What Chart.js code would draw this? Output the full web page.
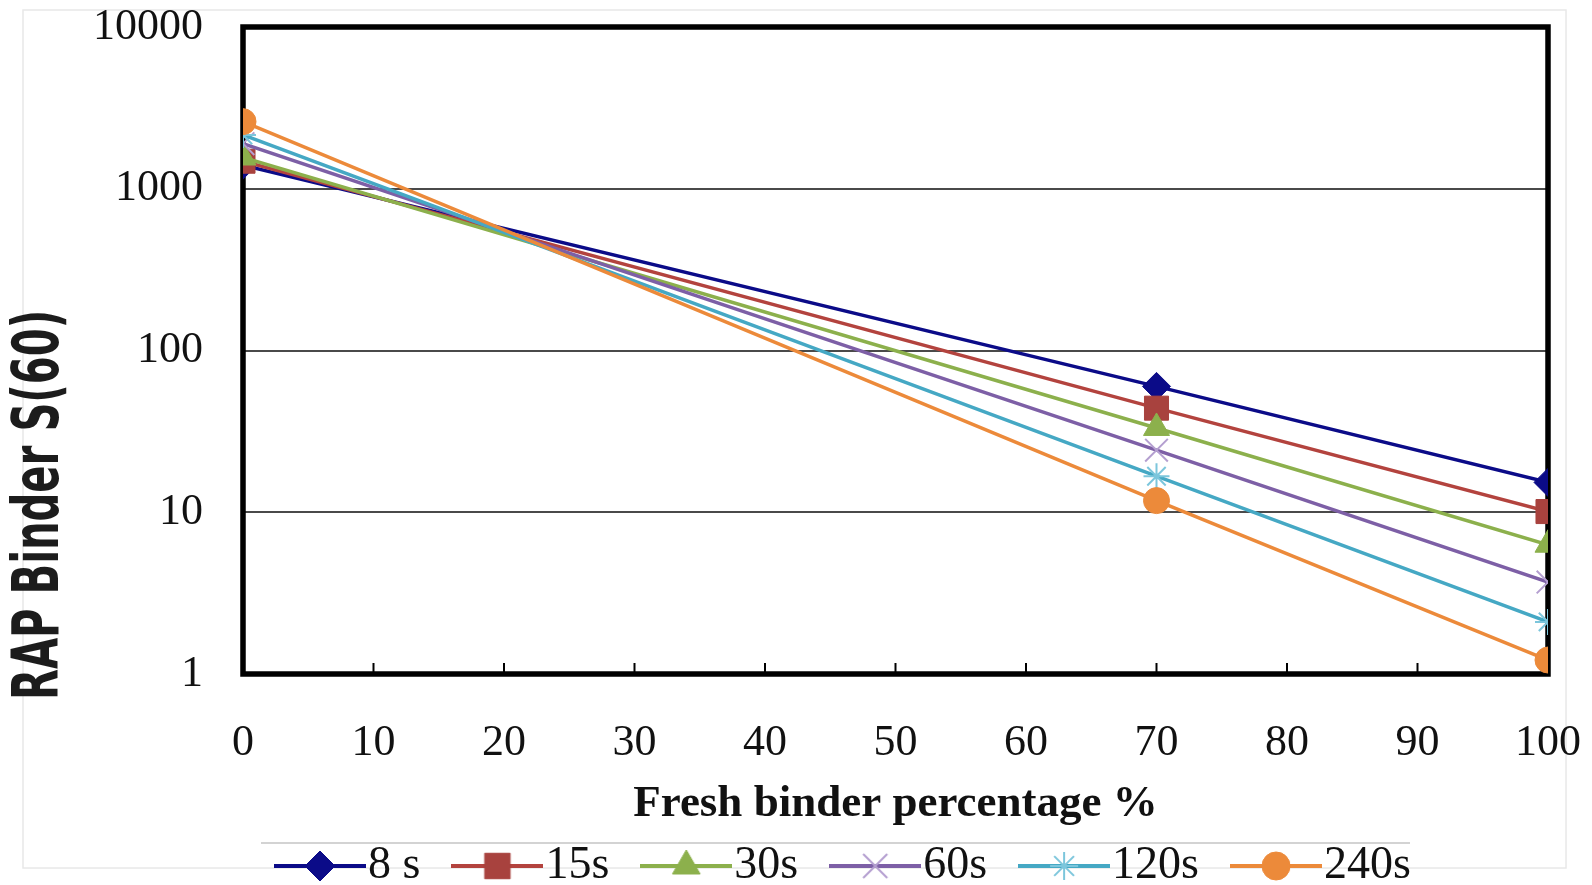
<!DOCTYPE html>
<html>
<head>
<meta charset="utf-8">
<script src="https://cdn.jsdelivr.net/npm/chart.js@4.4.1/dist/chart.umd.min.js"></script>
<style>
  html, body { margin: 0; padding: 0; background: #fff; overflow: hidden; }
  #wrap { width: 1592px; height: 899px; }
</style>
</head>
<body>
<div id="wrap"><canvas id="chart"></canvas></div>
<script>
// fresh binder percentage (x) and the measured values per loading time
const xValues = [0, 70, 100];
const seriesLabels = ["8 s", "15s", "30s", "60s", "120s", "240s"];
const s8 = [1400, 60, 15.3];
const s15 = [1480, 44, 10.1];
const s30 = [1560, 33.2, 6.3];
const s60 = [1900, 24.2, 3.7];
const s120 = [2150, 16.7, 2.1];
const s240 = [2600, 11.8, 1.22];
const yTickValues = [1, 10, 100, 1000, 10000];
const xTitle = "Fresh binder percentage %";
const yTitle = "RAP Binder S(60)";

const seriesValues = [s8, s15, s30, s60, s120, s240];
const lineColors = ["#0b0b88", "#b3433e", "#8cb04c", "#7d5fa6", "#45a8c4", "#ec8a3a"];
const markerColors = ["#0b0b88", "#a8423e", "#8cb04c", "#b49fd0", "#7cc6dc", "#ec8a3a"];
const markerStyles = ["rectRot", "rect", "triangle", "crossRot", "star", "circle"];
const markerSizes = [14, 17, 15, 16, 13, 13];
const markerBorders = [1, 1, 1, 2, 2, 1];

const serif = '"Liberation Serif", "Times New Roman", serif';

const datasets = seriesLabels.map((label, i) => ({
  label: label,
  data: xValues.map((x, j) => ({ x: x, y: seriesValues[i][j] })),
  borderColor: lineColors[i],
  borderWidth: 3.5,
  pointStyle: markerStyles[i],
  pointRadius: markerSizes[i],
  pointBackgroundColor: markerColors[i],
  pointBorderColor: markerColors[i],
  pointBorderWidth: markerBorders[i],
  tension: 0,
  order: seriesLabels.length - i
}));

// little picture of line + marker for each legend entry
function legendImage(i) {
  const c = document.createElement("canvas");
  c.width = 92;
  c.height = 36;
  const g = c.getContext("2d");
  g.strokeStyle = lineColors[i];
  g.lineWidth = 4;
  g.beginPath();
  g.moveTo(0, 18);
  g.lineTo(92, 18);
  g.stroke();
  g.fillStyle = markerColors[i];
  g.strokeStyle = markerColors[i];
  g.lineWidth = markerBorders[i];
  Chart.helpers.drawPoint(g, {
    pointStyle: markerStyles[i],
    radius: markerSizes[i] + 1,
    rotation: 0,
    borderWidth: markerBorders[i]
  }, 46, 18);
  return c;
}
const legendImages = seriesLabels.map((_, i) => legendImage(i));

// page border, frame, inner ticks and the rotated y title
const decorPlugin = {
  id: "decor",
  beforeDraw(chart) {
    const ctx = chart.ctx;
    ctx.save();
    ctx.fillStyle = "#ffffff";
    ctx.fillRect(0, 0, chart.width, chart.height);
    ctx.strokeStyle = "#e8e8e8";
    ctx.lineWidth = 1.5;
    ctx.strokeRect(23, 10, 1543, 858);
    ctx.strokeStyle = "#c4c4c4";
    ctx.beginPath();
    ctx.moveTo(261, 843);
    ctx.lineTo(1410, 843);
    ctx.stroke();
    ctx.restore();
  },
  beforeDatasetsDraw(chart) {
    const ctx = chart.ctx;
    const a = chart.chartArea;
    const xs = chart.scales.x;
    ctx.save();
    ctx.strokeStyle = "#000";
    ctx.lineWidth = 2;
    xs.ticks.forEach(t => {
      const px = xs.getPixelForValue(t.value);
      ctx.beginPath();
      ctx.moveTo(px, a.bottom);
      ctx.lineTo(px, a.bottom - 11);
      ctx.stroke();
    });
    ctx.lineWidth = 5.5;
    ctx.strokeRect(a.left, a.top, a.right - a.left, a.bottom - a.top);
    ctx.restore();
  },
  afterDraw(chart) {
    const ctx = chart.ctx;
    ctx.save();
    ctx.font = 'bold 64px "DejaVu Sans Condensed", "DejaVu Sans", sans-serif';
    const w = ctx.measureText(yTitle).width;
    ctx.translate(41, 505);
    ctx.rotate(-Math.PI / 2);
    ctx.scale(390 / w, 1);
    ctx.textAlign = "center";
    ctx.textBaseline = "middle";
    ctx.fillStyle = "#1c1c1c";
    ctx.fillText(yTitle, 0, 0);
    ctx.restore();
  }
};

new Chart(document.getElementById("chart"), {
  type: "line",
  data: { datasets: datasets },
  plugins: [decorPlugin],
  options: {
    responsive: true,
    maintainAspectRatio: false,
    animation: false,
    layout: { padding: { left: 20, right: 44, top: 27, bottom: 0 } },
    scales: {
      x: {
        type: "linear",
        min: 0,
        max: 100,
        border: { display: false },
        grid: { display: false, drawTicks: false },
        ticks: {
          stepSize: 10,
          padding: 43,
          color: "#111",
          font: { family: serif, size: 44 }
        },
        title: {
          display: true,
          text: xTitle,
          color: "#111",
          font: { family: serif, size: 45, weight: "bold" },
          padding: { top: 0, bottom: -40 }
        },
        afterFit(scale) {
          scale.height = 117;
          scale.paddingLeft = 0;
          scale.paddingRight = 0;
        }
      },
      y: {
        type: "logarithmic",
        min: 1,
        max: 10000,
        border: { display: false },
        grid: {
          drawTicks: false,
          color: ctx => (ctx.tick && (ctx.tick.value === 1 || ctx.tick.value === 10000)) ? "rgba(0,0,0,0)" : "#4a4a4a",
          lineWidth: 2
        },
        ticks: {
          padding: 40,
          color: "#111",
          font: { family: serif, size: 44 },
          callback: v => String(v)
        },
        afterBuildTicks(scale) {
          scale.ticks = yTickValues.map(v => ({ value: v }));
        },
        afterFit(scale) {
          scale.width = 223;
          scale.paddingTop = 0;
          scale.paddingBottom = 0;
        }
      }
    },
    plugins: {
      tooltip: { enabled: false },
      legend: {
        position: "bottom",
        fullSize: false,
        align: "start",
        labels: {
          usePointStyle: true,
          pointStyleWidth: 50,
          padding: 52,
          color: "#111",
          font: { family: serif, size: 46 },
          generateLabels: chart => chart.data.datasets.map((ds, i) => ({
            text: ds.label,
            pointStyle: legendImages[i],
            fillStyle: "rgba(0,0,0,0)",
            strokeStyle: "rgba(0,0,0,0)",
            lineWidth: 0,
            hidden: false,
            datasetIndex: i,
            fontColor: "#111"
          }))
        }
      }
    }
  }
});
</script>
</body>
</html>
